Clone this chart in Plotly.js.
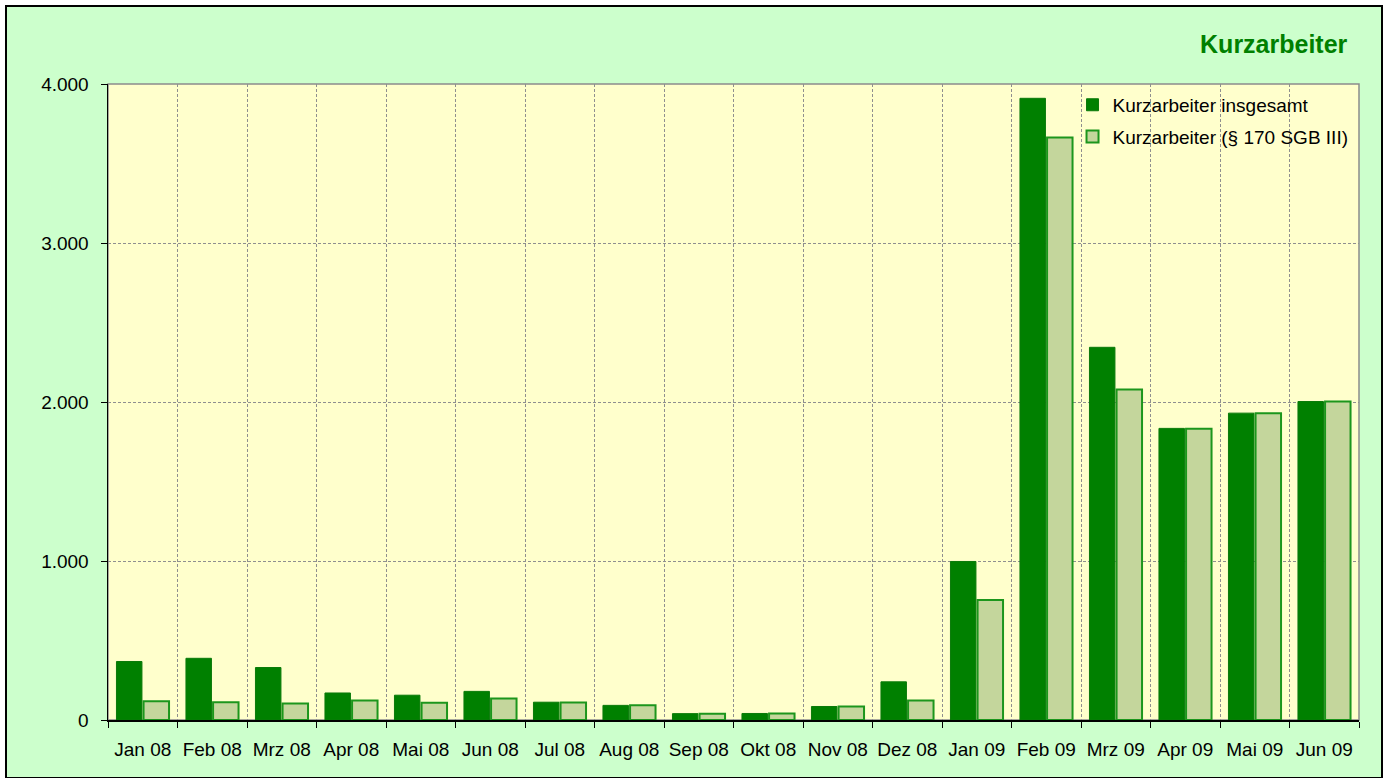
<!DOCTYPE html>
<html>
<head>
<meta charset="utf-8">
<script src="https://cdn.plot.ly/plotly-3.0.1.min.js"></script>
<style>
  html, body { margin: 0; padding: 0; background: #ffffff; }
  #frame { position: absolute; left: 5px; top: 5px; border: 2px solid #000000; background: #CCFFCC; }
  #chart { width: 1374px; height: 770px; }
</style>
</head>
<body>
<div id="frame"><div id="chart"></div></div>
<script>
const categories = ["Jan 08","Feb 08","Mrz 08","Apr 08","Mai 08","Jun 08","Jul 08","Aug 08","Sep 08","Okt 08","Nov 08","Dez 08","Jan 09","Feb 09","Mrz 09","Apr 09","Mai 09","Jun 09"];
const insgesamt = [368, 388, 330, 170, 156, 180, 112, 92, 40, 41, 85, 240, 997, 3910, 2344, 1834, 1930, 2003];
const sgb170 = [118, 111, 103, 122, 108, 136, 110, 92, 40, 41, 85, 122, 754, 3663, 2078, 1832, 1930, 2003];
const seriesNames = ["Kurzarbeiter insgesamt", "Kurzarbeiter (§ 170 SGB III)"];
const chartTitle = "Kurzarbeiter";
const yTicks = [0, 1000, 2000, 3000, 4000];

const traces = [
  {
    type: "bar", x: categories, y: insgesamt, name: seriesNames[0], legendgroup: "a",
    marker: { color: "#008000", line: { color: "#0a7a0a", width: 1 } },
    hoverinfo: "x+y"
  },
  {
    type: "bar", x: categories, y: sgb170, name: seriesNames[1], legendgroup: "b",
    marker: { color: "#C4D69C", line: { color: "#1c961c", width: 2 } },
    hoverinfo: "x+y"
  }
];

const layout = {
  width: 1374, height: 770,
  margin: { l: 101, r: 22, t: 77, b: 57 },
  paper_bgcolor: "#CCFFCC",
  plot_bgcolor: "#FFFFCC",
  font: { family: "Liberation Sans, Arial, sans-serif", size: 19, color: "#000000" },
  separators: ",.",
  barmode: "group",
  bargap: 0.22,
  bargroupgap: 0.06,
  title: {
    text: "<b>" + chartTitle + "</b>",
    font: { size: 25, color: "#008000", family: "Liberation Sans, Arial, sans-serif" },
    xref: "container", yref: "container",
    x: 0.9755, xanchor: "right",
    y: 0.951, yanchor: "middle"
  },
  xaxis: {
    type: "category",
    tickson: "boundaries",
    ticks: "outside", ticklen: 6, tickcolor: "#000000",
    ticklabelstandoff: 12,
    showgrid: true, gridcolor: "#8f8f8f", griddash: "3px,2px", gridwidth: 1,
    showline: true, linecolor: "#000000", linewidth: 1.5,
    zeroline: false,
    tickfont: { size: 19 },
    fixedrange: true
  },
  yaxis: {
    range: [0, 4000],
    tickvals: yTicks,
    tickformat: ",d",
    ticks: "outside", ticklen: 6, tickcolor: "#000000",
    ticklabelstandoff: 8,
    showgrid: true, gridcolor: "#8f8f8f", griddash: "3px,2px", gridwidth: 1,
    showline: true, linecolor: "#000000", linewidth: 1.5,
    zeroline: false,
    tickfont: { size: 19 },
    fixedrange: true
  },
  legend: {
    x: 0.771, xanchor: "left",
    y: 0.997, yanchor: "top",
    bgcolor: "rgba(0,0,0,0)",
    borderwidth: 0,
    traceorder: "grouped",
    tracegroupgap: 4,
    font: { size: 19 }
  },
  shapes: [
    { type: "rect", xref: "paper", yref: "paper", x0: 0, x1: 1, y0: 0, y1: 1,
      line: { color: "#8c8c8c", width: 1.5 }, layer: "below" }
  ],
  showlegend: true
};

Plotly.newPlot("chart", traces, layout, { displayModeBar: false, staticPlot: true });
</script>
</body>
</html>
